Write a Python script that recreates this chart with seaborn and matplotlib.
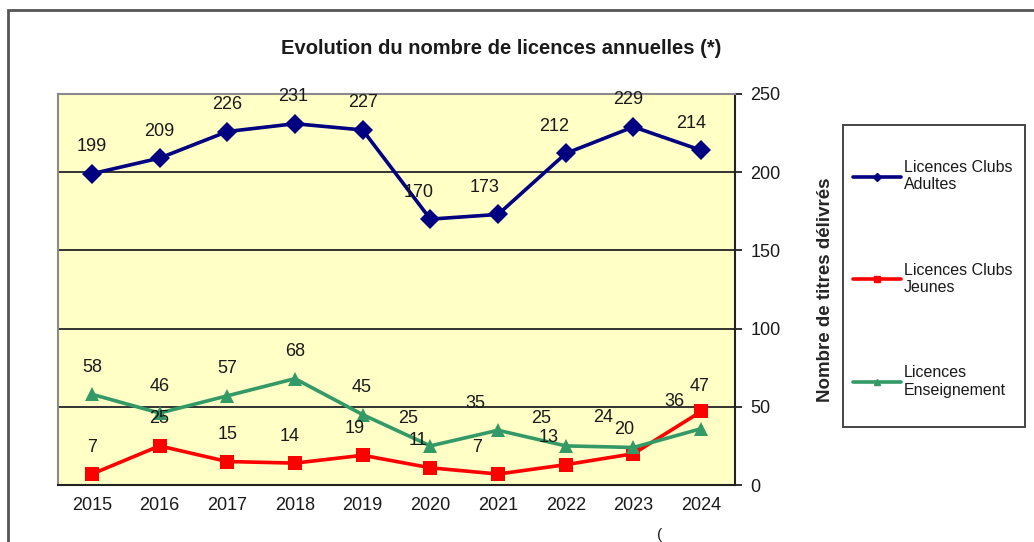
import matplotlib
matplotlib.use("Agg")
import matplotlib.pyplot as plt
import seaborn as sns
import pandas as pd
from matplotlib.patches import Rectangle

# ---- data ----
years = ["2015", "2016", "2017", "2018", "2019", "2020", "2021", "2022", "2023", "2024"]
adultes = [199, 209, 226, 231, 227, 170, 173, 212, 229, 214]
jeunes = [7, 25, 15, 14, 19, 11, 7, 13, 20, 47]
enseignement = [58, 46, 57, 68, 45, 25, 35, 25, 24, 36]

series_names = ["Licences Clubs\nAdultes", "Licences Clubs\nJeunes", "Licences\nEnseignement"]
series_values = [adultes, jeunes, enseignement]

# nudge of the data labels (pixels, dx and dy above the point), as in the original chart
label_dx = [
    [0, 0, 0, -2, 0, -12, -13, -12, -5, -10],
    [0, 0, 0, -5, -8, -12, -21, -17, -9, -2],
    [0, 0, 0, 0, -1, -22, -23, -25, -30, -27],
]
label_dy = [
    [27] * 10,
    [27, 27, 27, 27, 27, 27, 27, 27, 24, 25],
    [27, 27, 27, 27, 27, 27, 27, 27, 30, 27],
]

colors = {series_names[0]: "#000080", series_names[1]: "#FF0000", series_names[2]: "#339966"}
markers = {series_names[0]: "D", series_names[1]: "s", series_names[2]: "^"}

rows = []
for name, vals in zip(series_names, series_values):
    for i, v in enumerate(vals):
        rows.append({"pos": i, "year": years[i], "value": v, "serie": name})
df = pd.DataFrame(rows)

# ---- style ----
sns.set_theme(style="white")
plt.rcParams["font.family"] = ["Liberation Sans", "DejaVu Sans"]

W, H = 1034, 542
fig = plt.figure(figsize=(W / 100, H / 100), dpi=100)
ax = fig.add_axes([58 / W, 1 - 485 / H, (735 - 58) / W, (485 - 94) / H])
ax.set_facecolor("#FFFFC6")

sns.lineplot(
    data=df, x="pos", y="value", hue="serie", style="serie",
    hue_order=series_names, style_order=series_names,
    palette=colors, markers=markers, dashes=False,
    linewidth=2.6, markersize=10.5, markeredgewidth=0,
    legend=False, ax=ax, zorder=3,
)

# data labels
for vals, dxs, dys in zip(series_values, label_dx, label_dy):
    for i, v in enumerate(vals):
        ax.annotate(str(v), (i, v), textcoords="offset points",
                    xytext=(dxs[i] * 0.72, dys[i] * 0.72),
                    ha="center", va="center", fontsize=13, color="#1a1a1a", zorder=4)

# axes
ax.set_xlim(-0.5, len(years) - 0.5)
ax.set_ylim(0, 250)
ax.set_yticks(range(0, 251, 50))
ax.yaxis.tick_right()
ax.yaxis.set_label_position("right")
ax.set_xticks(range(len(years)))
ax.set_xticklabels(years)
ax.set_xticks([i - 0.5 for i in range(len(years) + 1)], minor=True)
ax.tick_params(axis="x", which="major", length=0, labelsize=13, pad=9, labelcolor="#1a1a1a")
ax.tick_params(axis="x", which="minor", length=5, width=1.3, color="#222222", direction="out")
ax.tick_params(axis="y", which="major", length=5, width=1.3, color="#222222", direction="out",
               labelsize=13, pad=6, labelcolor="#1a1a1a")
ax.set_xlabel("")
ax.set_ylabel("Nombre de titres délivrés", fontsize=13.5, fontweight="bold", labelpad=26)

ax.grid(axis="y", color="#333333", linewidth=1.4)
ax.set_axisbelow(True)
for side in ["left", "top"]:
    ax.spines[side].set_color("#8a8a8a")
    ax.spines[side].set_linewidth(1.5)
for side in ["right", "bottom"]:
    ax.spines[side].set_color("#222222")
    ax.spines[side].set_linewidth(1.5)

# title
fig.text(501 / W, 1 - 48 / H, "Evolution du nombre de licences annuelles (*)",
         ha="center", va="center", fontsize=14.5, fontweight="bold", color="#1a1a1a")

# legend (frame drawn separately)
handles = [plt.Line2D([], [], color=colors[n], marker=markers[n], markersize=4.5,
                      linewidth=2.6) for n in series_names]
leg = fig.legend(handles, series_names, loc="upper left",
                 bbox_to_anchor=(853 / W, 1 - 160 / H), ncol=1,
                 fontsize=11.5, frameon=False,
                 handlelength=3.0, handletextpad=0.2, labelspacing=4.4,
                 borderpad=0, borderaxespad=0)
for t in leg.get_texts():
    t.set_color("#1a1a1a")
fig.patches.append(Rectangle((843 / W, 1 - 427 / H), (1025 - 843) / W, (427 - 125) / H,
                             transform=fig.transFigure, fill=False,
                             edgecolor="#444444", linewidth=1.4))

# outer frame of the chart area
fig.patches.append(Rectangle((8 / W, -0.05), 1.2, 1 - 10 / H + 0.05,
                             transform=fig.transFigure, fill=False,
                             edgecolor="#555555", linewidth=2))
fig.text(660 / W, 1 - 535 / H, "(", ha="center", va="center", fontsize=11, color="#1a1a1a")

fig.savefig("out.png", dpi=100)
